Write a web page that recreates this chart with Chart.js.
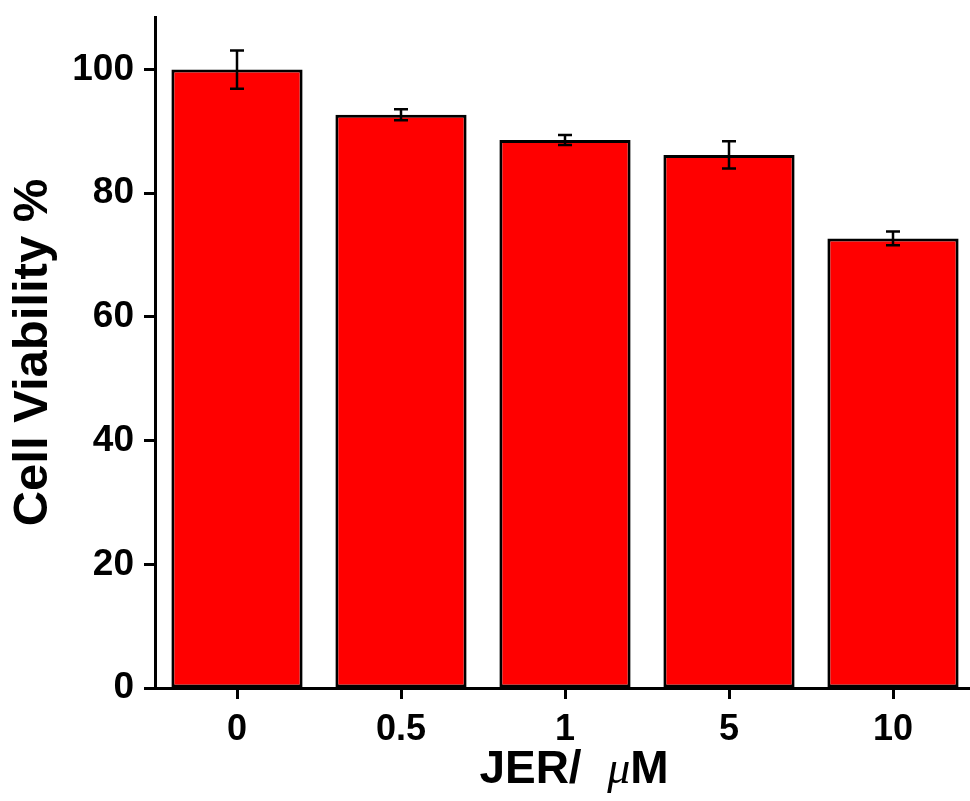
<!DOCTYPE html>
<html><head><meta charset="utf-8">
<script src="https://cdn.jsdelivr.net/npm/chart.js@4"></script>
<style>html,body{margin:0;padding:0;background:#fff;overflow:hidden;width:970px;height:801px}
#wrap{width:970px;height:801px;overflow:hidden;position:relative}
canvas{display:block}</style>
</head><body>
<div id="wrap"><canvas id="c" width="975" height="801" style="width:975px;height:801px"></canvas></div>
<script>
const categories = ["0", "0.5", "1", "5", "10"];
const viability = [100, 92.7, 88.6, 86.2, 72.7];
const errors = [3.1, 0.9, 0.8, 2.2, 1.1];
const yTicks = [0, 20, 40, 60, 80, 100];
const xTitle = ["JER/  ", "\u03BC", "M"];
const yTitle = "Cell Viability %";

const FONT = "'Liberation Sans', Arial, sans-serif";

const errorBars = {
  id: 'errorBars',
  afterDatasetsDraw(chart) {
    const ctx = chart.ctx, y = chart.scales.y;
    const meta = chart.getDatasetMeta(0);
    ctx.save();
    ctx.strokeStyle = '#000'; ctx.lineWidth = 2.5;
    meta.data.forEach((bar, i) => {
      const v = viability[i], e = errors[i];
      const yt = y.getPixelForValue(v + e), yb = y.getPixelForValue(v - e);
      const x = bar.x, cw = 7;
      ctx.beginPath();
      ctx.moveTo(x, yt); ctx.lineTo(x, yb);
      ctx.moveTo(x - cw, yt); ctx.lineTo(x + cw, yt);
      ctx.moveTo(x - cw, yb); ctx.lineTo(x + cw, yb);
      ctx.stroke();
    });
    ctx.restore();
  }
};

const titles = {
  id: 'titles',
  afterDraw(chart) {
    const ctx = chart.ctx, area = chart.chartArea;
    ctx.save();
    ctx.fillStyle = '#000';
    ctx.textBaseline = 'alphabetic';
    const f1 = "bold 46px " + FONT;
    const f2 = "italic 46px 'Liberation Serif', 'DejaVu Serif', serif";
    ctx.font = f1; const w1 = ctx.measureText(xTitle[0]).width;
    ctx.font = f2; const w2 = ctx.measureText(xTitle[1]).width;
    ctx.font = f1; const w3 = ctx.measureText(xTitle[2]).width;
    const cx = 574, by = 783;
    let x0 = cx - (w1 + w2 + w3) / 2;
    ctx.textAlign = 'left';
    ctx.font = f1; ctx.fillText(xTitle[0], x0, by);
    ctx.font = f2; ctx.fillText(xTitle[1], x0 + w1, by);
    ctx.font = f1; ctx.fillText(xTitle[2], x0 + w1 + w2, by);
    ctx.translate(33, (area.top + area.bottom) / 2);
    ctx.rotate(-Math.PI / 2);
    ctx.textAlign = 'center'; ctx.textBaseline = 'middle';
    ctx.font = "bold 49px " + FONT;
    ctx.fillText(yTitle, 0, 0);
    ctx.restore();
  }
};

new Chart(document.getElementById('c'), {
  type: 'bar',
  data: {
    labels: categories,
    datasets: [{
      data: viability,
      backgroundColor: '#ff0000',
      borderColor: '#000',
      borderWidth: 3,
      borderSkipped: false,
      barPercentage: 0.8,
      categoryPercentage: 1.0
    }]
  },
  options: {
    responsive: false,
    animation: false,
    devicePixelRatio: 1,
    layout: { padding: { top: 17, right: 0, left: 0, bottom: 0 } },
    plugins: { legend: { display: false }, tooltip: { enabled: false } },
    scales: {
      x: {
        offset: true,
        grid: { display: true, drawOnChartArea: false, drawTicks: true, tickLength: 11, tickWidth: 3, tickColor: '#000', offset: false },
        border: { display: true, color: '#000', width: 3 },
        ticks: { color: '#000', font: { family: FONT, size: 36, weight: 'bold' }, padding: 9, maxRotation: 0 },
        afterFit(s) { s.height = 113; }
      },
      y: {
        min: 0, max: 108.5,
        grid: { display: true, drawOnChartArea: false, drawTicks: true, tickLength: 11, tickWidth: 3, tickColor: '#000' },
        border: { display: true, color: '#000', width: 3 },
        ticks: { stepSize: 20, color: '#000', font: { family: FONT, size: 37, weight: 'bold', lineHeight: 0.3 }, padding: 10 },
        afterBuildTicks(s) { s.ticks = yTicks.map(v => ({ value: v })); },
        afterFit(s) { s.width = 155; }
      }
    }
  },
  plugins: [errorBars, titles]
});
</script>
</body></html>
